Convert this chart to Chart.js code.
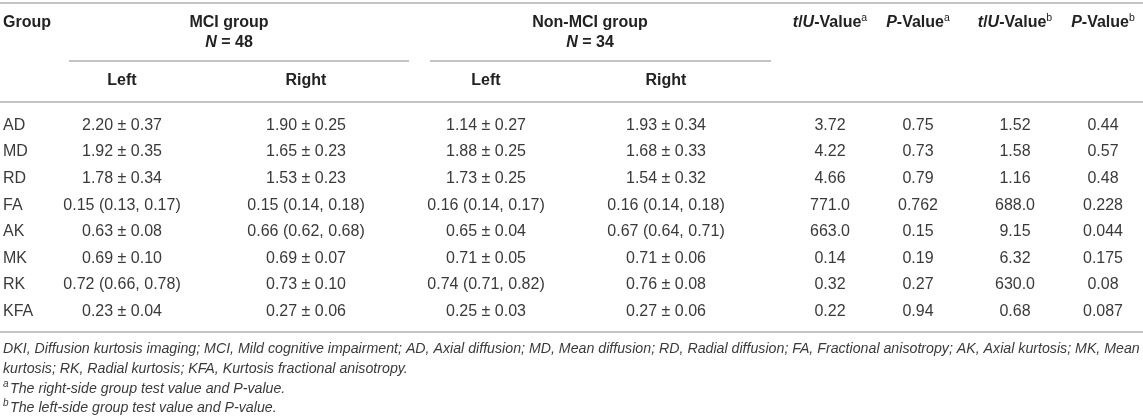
<!DOCTYPE html>
<html>
<head>
<meta charset="utf-8">
<title>DKI parameters, MCI vs non-MCI</title>
<script src="https://cdn.jsdelivr.net/npm/chart.js@4.4.1/dist/chart.umd.min.js"></script>
<style>
  html, body { margin: 0; padding: 0; background: #fff; }
  #wrap { width: 1143px; height: 419px; }
</style>
</head>
<body>
<div id="wrap"><canvas id="tableChart" width="1143" height="419"></canvas></div>
<script>
const rows = ['AD', 'MD', 'RD', 'FA', 'AK', 'MK', 'RK', 'KFA'];
const mciLeft = ['2.20 ± 0.37', '1.92 ± 0.35', '1.78 ± 0.34', '0.15 (0.13, 0.17)', '0.63 ± 0.08', '0.69 ± 0.10', '0.72 (0.66, 0.78)', '0.23 ± 0.04'];
const mciRight = ['1.90 ± 0.25', '1.65 ± 0.23', '1.53 ± 0.23', '0.15 (0.14, 0.18)', '0.66 (0.62, 0.68)', '0.69 ± 0.07', '0.73 ± 0.10', '0.27 ± 0.06'];
const nonLeft = ['1.14 ± 0.27', '1.88 ± 0.25', '1.73 ± 0.25', '0.16 (0.14, 0.17)', '0.65 ± 0.04', '0.71 ± 0.05', '0.74 (0.71, 0.82)', '0.25 ± 0.03'];
const nonRight = ['1.93 ± 0.34', '1.68 ± 0.33', '1.54 ± 0.32', '0.16 (0.14, 0.18)', '0.67 (0.64, 0.71)', '0.71 ± 0.06', '0.76 ± 0.08', '0.27 ± 0.06'];
const tuValueA = ['3.72', '4.22', '4.66', '771.0', '663.0', '0.14', '0.32', '0.22'];
const pValueA = ['0.75', '0.73', '0.79', '0.762', '0.15', '0.19', '0.27', '0.94'];
const tuValueB = ['1.52', '1.58', '1.16', '688.0', '9.15', '6.32', '630.0', '0.68'];
const pValueB = ['0.44', '0.57', '0.48', '0.228', '0.044', '0.175', '0.08', '0.087'];

const mciN = 48;
const nonN = 34;

const footnotes = [
    'DKI, Diffusion kurtosis imaging; MCI, Mild cognitive impairment; AD, Axial diffusion; MD, Mean diffusion; RD, Radial diffusion; FA, Fractional anisotropy; AK, Axial kurtosis; MK, Mean',
    'kurtosis; RK, Radial kurtosis; KFA, Kurtosis fractional anisotropy.'
];
const noteA = 'The right-side group test value and P-value.';
const noteB = 'The left-side group test value and P-value.';

// --- layout ---
const FONT = '"Liberation Sans", Arial, Helvetica, sans-serif';
const HEAD_COLOR = '#222';
const BODY_COLOR = '#3a3a3a';
const RULE_COLOR = '#c4c4c4';

// x position of each column on the x scale (scale runs 0..1143 across the canvas)
const colX = { group: 3, mciLeft: 122, mciRight: 306, nonLeft: 486, nonRight: 666, tuA: 830, pA: 918, tuB: 1015, pB: 1103 };

const columns = [
    { key: 'group', values: rows, align: 'left' },
    { key: 'mciLeft', values: mciLeft, align: 'center' },
    { key: 'mciRight', values: mciRight, align: 'center' },
    { key: 'nonLeft', values: nonLeft, align: 'center' },
    { key: 'nonRight', values: nonRight, align: 'center' },
    { key: 'tuA', values: tuValueA, align: 'center' },
    { key: 'pA', values: pValueA, align: 'center' },
    { key: 'tuB', values: tuValueB, align: 'center' },
    { key: 'pB', values: pValueB, align: 'center' }
];

// one scatter dataset per column, each cell is a point (row label on y, column on x)
const datasets = columns.map(col => ({
    label: col.key,
    align: col.align,
    data: col.values.map((v, i) => ({ x: colX[col.key], y: rows[i], text: v })),
    pointRadius: 0,
    pointHoverRadius: 0,
    showLine: false
}));

// draw a line of mixed-style text runs: [text, style]
function drawRuns(ctx, runs, x, y, align) {
    const fonts = {
        b: 'bold 16px ' + FONT,
        bi: 'italic bold 16px ' + FONT,
        sup: '10.5px ' + FONT,
        i: 'italic 14.2px ' + FONT,
        isup: 'italic 10px ' + FONT
    };
    let total = 0;
    runs.forEach(r => { ctx.font = fonts[r[1]]; total += ctx.measureText(r[0]).width; });
    let cx = align === 'center' ? x - total / 2 : x;
    ctx.textAlign = 'left';
    runs.forEach(r => {
        ctx.font = fonts[r[1]];
        const dy = r[1].indexOf('sup') >= 0 ? -5 : 0;
        ctx.fillText(r[0], cx, y + dy);
        cx += ctx.measureText(r[0]).width + (r[1] === 'isup' ? 1.5 : 0);
    });
}

function hRule(ctx, x1, x2, y, w) {
    ctx.beginPath();
    ctx.lineWidth = w;
    ctx.strokeStyle = RULE_COLOR;
    ctx.moveTo(x1, y);
    ctx.lineTo(x2, y);
    ctx.stroke();
}

const tablePlugin = {
    id: 'tablePlugin',
    afterDatasetsDraw(chart) {
        const ctx = chart.ctx;
        const xs = chart.scales.x;
        const px = k => xs.getPixelForValue(colX[k]);
        const W = chart.width;
        ctx.save();
        ctx.textBaseline = 'middle';

        // rules
        hRule(ctx, 0, W, 3, 2);
        hRule(ctx, 69, 409, 61, 2);
        hRule(ctx, 430, 771, 61, 2);
        hRule(ctx, 0, W, 102, 2);
        hRule(ctx, 0, W, 332, 2);

        // header
        ctx.fillStyle = HEAD_COLOR;
        drawRuns(ctx, [['Group', 'b']], px('group'), 23, 'left');
        drawRuns(ctx, [['MCI group', 'b']], 229, 23, 'center');
        drawRuns(ctx, [['N', 'bi'], [' = ' + mciN, 'b']], 229, 43, 'center');
        drawRuns(ctx, [['Non-MCI group', 'b']], 590, 23, 'center');
        drawRuns(ctx, [['N', 'bi'], [' = ' + nonN, 'b']], 590, 43, 'center');
        ['mciLeft', 'mciRight', 'nonLeft', 'nonRight'].forEach((k, i) => {
            drawRuns(ctx, [[i % 2 === 0 ? 'Left' : 'Right', 'b']], px(k), 81, 'center');
        });
        drawRuns(ctx, [['t', 'bi'], ['/', 'b'], ['U', 'bi'], ['-Value', 'b'], ['a', 'sup']], px('tuA'), 23, 'center');
        drawRuns(ctx, [['P', 'bi'], ['-Value', 'b'], ['a', 'sup']], px('pA'), 23, 'center');
        drawRuns(ctx, [['t', 'bi'], ['/', 'b'], ['U', 'bi'], ['-Value', 'b'], ['b', 'sup']], px('tuB'), 23, 'center');
        drawRuns(ctx, [['P', 'bi'], ['-Value', 'b'], ['b', 'sup']], px('pB'), 23, 'center');

        // body cells, placed by the scales
        ctx.fillStyle = BODY_COLOR;
        ctx.font = '16px ' + FONT;
        chart.data.datasets.forEach((ds, di) => {
            const meta = chart.getDatasetMeta(di);
            ctx.textAlign = ds.align;
            meta.data.forEach((pt, i) => {
                ctx.fillText(ds.data[i].text, pt.x, pt.y);
            });
        });

        // footnotes
        drawRuns(ctx, [[footnotes[0], 'i']], 3, 349, 'left');
        drawRuns(ctx, [[footnotes[1], 'i']], 3, 369, 'left');
        drawRuns(ctx, [['a', 'isup'], [noteA, 'i']], 3, 389, 'left');
        drawRuns(ctx, [['b', 'isup'], [noteB, 'i']], 3, 408, 'left');
        ctx.restore();
    }
};

const tableChart = new Chart(document.getElementById('tableChart'), {
    type: 'scatter',
    data: { datasets: datasets },
    options: {
        responsive: false,
        animation: false,
        events: [],
        layout: { padding: { top: 112, bottom: 94, left: 0, right: 0 } },
        scales: {
            x: { type: 'linear', min: 0, max: 1143, display: false },
            y: { type: 'category', labels: rows, offset: true, display: false }
        },
        plugins: {
            legend: { display: false },
            tooltip: { enabled: false }
        }
    },
    plugins: [tablePlugin]
});
</script>
</body>
</html>
